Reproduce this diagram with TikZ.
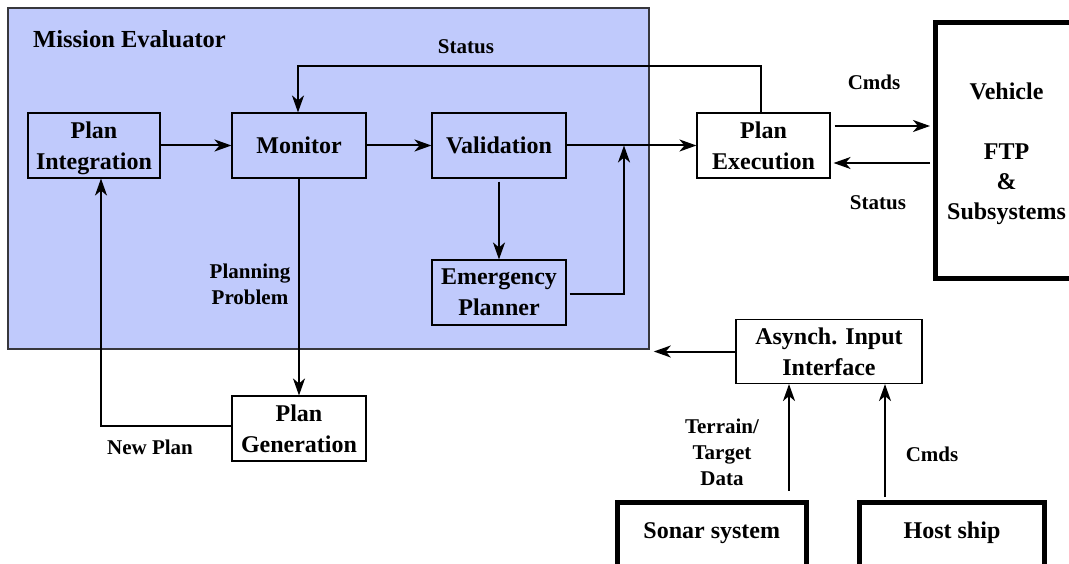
\documentclass[tikz,border=0pt]{standalone}
\usepackage{fontspec}
\setmainfont{Liberation Serif}
\usetikzlibrary{arrows.meta,calc}
\definecolor{mefill}{RGB}{192,202,252}
\definecolor{meline}{RGB}{55,55,60}
\begin{document}
\begin{tikzpicture}[x=1pt,y=-1pt,
  font=\bfseries\fontsize{24}{31}\selectfont,
  box/.style={draw,line width=1.1pt,align=center,inner sep=0pt,minimum width=134pt,minimum height=65pt},
  heavy/.style={draw,line width=5pt,align=center,inner sep=0pt},
  lbl/.style={align=center,inner sep=0pt,font=\bfseries\fontsize{21}{26}\selectfont},
  conn/.style={line width=2pt},
  arr/.style={conn,-{Stealth[length=17pt,width=12pt,inset=5pt]}}]
\fill[white] (0,0) rectangle (1069,564);
\useasboundingbox (0,0) rectangle (1069,564);
% Mission evaluator container
\node[draw=meline,fill=mefill,line width=1.6pt,minimum width=641pt,minimum height=341pt,inner sep=0pt] (me) at (328.5,178.5) {};
\node[anchor=west,inner sep=0pt,font=\bfseries\fontsize{24.5}{30}\selectfont] (tit) at (33,39) {Mission Evaluator};
% boxes
\node[box,minimum width=132pt,text depth=0pt] (pi) at (94,145.5) {Plan\\Integration};
\node[box] (mon) at (299,145.5) {Monitor};
\node[box] (val) at (499,145.5) {Validation};
\node[box] (emg) at (499,292.5) {Emergency\\Planner};
\node[box,minimum width=133pt] (pex) at (763.5,145.5) {Plan\\Execution};
\node[box] (gen) at (299,428.5) {Plan\\Generation};
\node[box,minimum width=186pt,minimum height=64pt] (asy) at (829,351.5) {Asynch. Input\\Interface};
\node[heavy,minimum width=143pt,minimum height=256pt,anchor=west,text depth=0pt,font=\bfseries\fontsize{24}{30}\selectfont] (veh) at (932.5,151) {Vehicle\\[30pt]FTP\\\&\\Subsystems};
\node[heavy,minimum width=189.5pt,minimum height=72pt,anchor=north] (son) at (711.75,499.5) {};
\node[heavy,minimum width=185pt,minimum height=72pt,anchor=north] (host) at (952,499.5) {};
\node[inner sep=0pt] (sont) at (711.75,533) {Sonar system};
\node[inner sep=0pt] (hostt) at (952,533) {Host ship};
% coordinates
\coordinate (j) at (624,145.5);
\coordinate (s0) at (761,66);
\coordinate (s1) at (298,66);
\coordinate (n1) at (101,426);
\coordinate (c1) at (0,126);
\coordinate (c2) at (0,163);
\coordinate (t1) at (789,0);
\coordinate (t2) at (885,0);
% connectors
\draw[arr] (pi) -- (mon);
\draw[arr] (mon) -- (val);
\draw[arr] (val) -- (pex);
\draw[arr,shorten <=3pt] (val) -- (emg);
\draw[arr,shorten <=3pt] (emg.east |- 0,294) -| (j);
\draw[arr] (s0 |- pex.north) -- (s0) -- (s1) -- (s1 |- mon.north);
\draw[arr] (mon) -- (gen);
\draw[arr] (gen.west |- n1) -- (n1) -- (n1 |- pi.south);
\draw[arr,shorten <=4pt,shorten >=2.5pt] (pex.east |- c1) -- (veh.west |- c1);
\draw[arr,shorten <=2.5pt,shorten >=3pt] (veh.west |- c2) -- (pex.east |- c2);
\draw[arr,shorten >=4pt] (asy.west) -- (asy.west -| me.east);
\draw[arr,shorten <=9pt] (son.north -| t1) -- (asy.south -| t1);
\draw[arr,shorten <=2.5pt] (host.north -| t2) -- (asy.south -| t2);
% labels
\node[lbl] (lst) at (466,47) {Status};
\node[lbl] (lcm) at (874,82) {Cmds};
\node[lbl] (lst2) at (878,203) {Status};
\node[lbl] (lpp) at (250,284.5) {Planning\\Problem};
\node[lbl] (lnp) at (150,447) {New Plan};
\node[lbl] (ltd) at (722,452) {Terrain/\\Target\\Data};
\node[lbl] (lcm2) at (932,454) {Cmds};
\end{tikzpicture}
\end{document}
